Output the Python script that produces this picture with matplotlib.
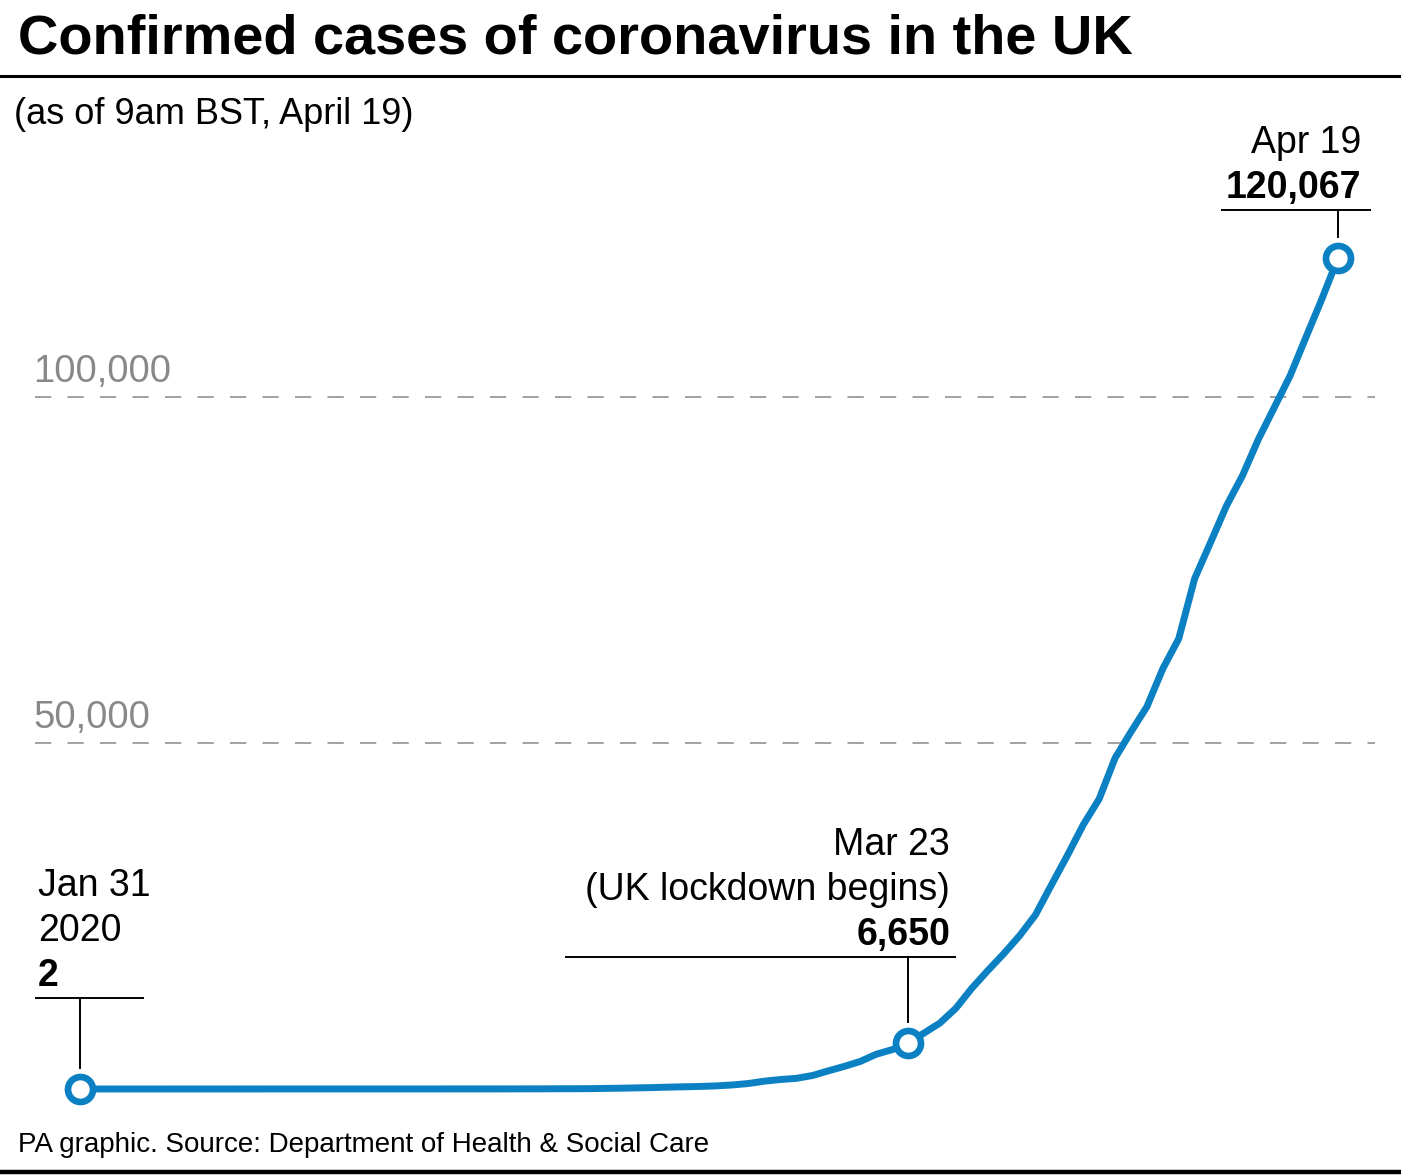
import matplotlib
matplotlib.use('Agg')
import matplotlib.pyplot as plt
import matplotlib.transforms as mtransforms
import numpy as np

plt.rcParams['font.family'] = ['Liberation Sans', 'DejaVu Sans']

# daily confirmed cases, Jan 31 .. Apr 19 2020 (day 0 = Jan 31)
jan = [2]
feb = [2] * 5 + [3] * 4 + [8] * 2 + [9] * 11 + [13] * 4 + [15, 20, 23]
mar = [36, 40, 51, 85, 115, 163, 206, 273, 321, 373, 456, 590, 798, 1140,
       1372, 1543, 1950, 2626, 3269, 3983, 5018, 5683, 6650, 8077, 9529,
       11658, 14543, 17089, 19522, 22141, 25150]
apr = [29474, 33718, 38168, 41903, 47806, 51608, 55242, 60733, 65077, 73758,
       78991, 84279, 88621, 93873, 98476, 103093, 108692, 114217, 120067]
cases = np.array(jan + feb + mar + apr)
days = np.arange(len(cases))

grid_vals = [50000, 100000]
grid_labels = ['50,000', '100,000']

# highlighted points: (day index, label lines, bold value)
highlights = [
    (0, ['Jan 31', '2020'], '2'),
    (52, ['Mar 23', '(UK lockdown begins)'], '6,650'),
    (79, ['Apr 19'], '120,067'),
]
# text x offset, alignment, leader rule extent and height (pixels from point)
leader = {
    0: (-42, 'left', (-44, 63), 91),
    52: (42, 'right', (-342, 47), 86),
    79: (23, 'right', (-116, 32), 48),
}

blue = '#0b80c2'
W, H = 1401, 1176
fig = plt.figure(figsize=(W / 100, H / 100), dpi=100)
ax = fig.add_axes([0, 0, 1, 1])
ax.set_axis_off()

# axis ranges so that Jan 31 sits at x=80px and Apr 19 at x=1338px
px_day = (1338 - 80) / 79
ax.set_xlim(-80 / px_day, (W - 80) / px_day)
px_case = (1089 - 258) / 120067
ax.set_ylim(-(H - 1089) / px_case, 1089 / px_case)

for v, lab in zip(grid_vals, grid_labels):
    ax.axhline(v, xmin=35 / W, xmax=1375 / W, color='#9a9a9a', lw=1.3,
               dashes=(9, 9))
    ax.text(33 / W, v + 1000, lab, transform=ax.get_yaxis_transform(),
            fontsize=27.5, color='#888888', va='bottom', ha='left')

ax.plot(days, cases, color=blue, lw=5, solid_joinstyle='round', zorder=3)

for d, lines, val in highlights:
    x, y = d, cases[d]
    ax.plot(x, y, 'o', ms=18, mfc='white', mec=blue, mew=4.8, zorder=4)
    px, py = ax.transData.transform((x, y))
    off = mtransforms.Affine2D().translate(px, py)
    tx, ha, hx, top = leader[d]
    ax.plot(hx, [top, top], color='black', lw=1.4, transform=off)
    ax.plot([0, 0], [top, 21], color='black', lw=1.4, transform=off)
    ty = top + 22
    ax.text(tx, ty, val, transform=off, ha=ha, va='center', fontsize=27,
            fontweight='bold')
    for i, s in enumerate(reversed(lines)):
        ax.text(tx, ty + 45 * (i + 1), s, transform=off, ha=ha, va='center',
                fontsize=27)

# header / footer
fig.text(18 / W, 1 - 40 / H, 'Confirmed cases of coronavirus in the UK',
         fontsize=40.3, fontweight='bold', va='center', ha='left')
fig.add_artist(plt.Line2D([0, 1], [1 - 76 / H, 1 - 76 / H], color='black',
                          lw=2.2, transform=fig.transFigure))
fig.text(14 / W, 1 - 115 / H, '(as of 9am BST, April 19)', fontsize=26,
         va='center', ha='left')
fig.text(18 / W, 1 - 1145 / H,
         'PA graphic. Source: Department of Health & Social Care',
         fontsize=20, va='center', ha='left')
fig.add_artist(plt.Line2D([0, 1], [1 - 1172 / H, 1 - 1172 / H], color='black',
                          lw=3.2, transform=fig.transFigure))

fig.savefig('out.png', dpi=100, facecolor='white')
